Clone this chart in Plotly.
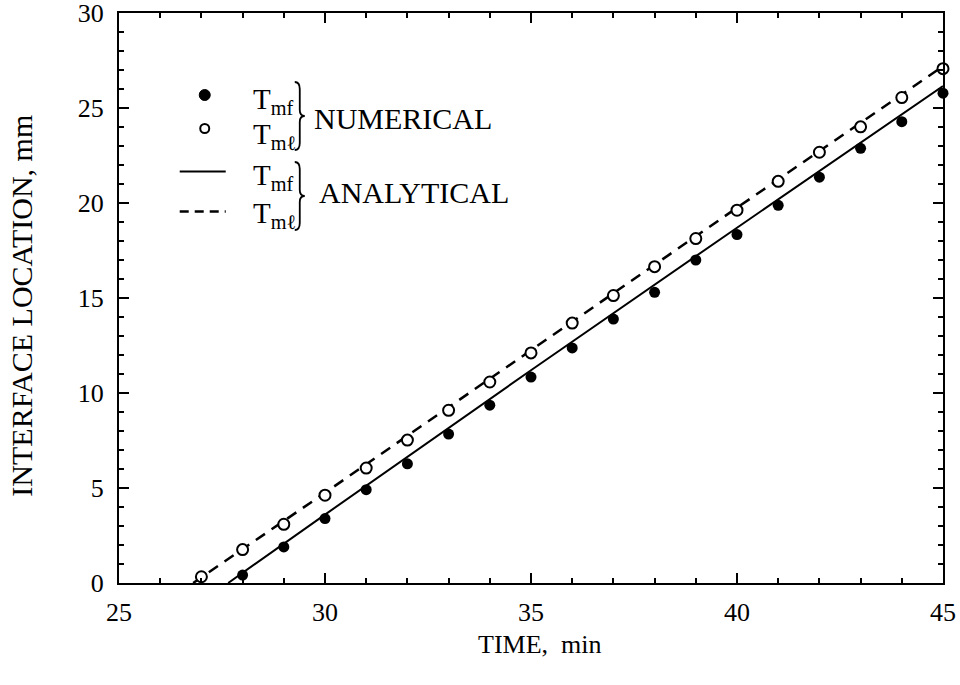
import plotly.graph_objects as go

# ---- data ----
time_num_mf = [28, 29, 30, 31, 32, 33, 34, 35, 36, 37, 38, 39, 40, 41, 42, 43, 44, 45]
loc_num_mf = [0.42, 1.90, 3.39, 4.91, 6.27, 7.84, 9.36, 10.84, 12.37, 13.89,
              15.30, 17.0, 18.34, 19.88, 21.36, 22.88, 24.28, 25.78]

time_num_ml = [27, 28, 29, 30, 31, 32, 33, 34, 35, 36, 37, 38, 39, 40, 41, 42, 43, 44, 45]
loc_num_ml = [0.33, 1.76, 3.09, 4.62, 6.05, 7.52, 9.09, 10.58, 12.11, 13.68,
              15.13, 16.65, 18.13, 19.62, 21.14, 22.67, 24.01, 25.55, 27.07]

time_ana_mf = [27.65, 30, 35, 40, 45]
loc_ana_mf = [0.0, 3.6, 11.2, 18.7, 26.15]

time_ana_ml = [26.8, 30, 35, 40, 45]
loc_ana_ml = [0.0, 4.75, 12.25, 19.75, 27.2]

x_ticks = [25, 30, 35, 40, 45]
y_ticks = [0, 5, 10, 15, 20, 25, 30]

FONT = "Liberation Serif"

fig = go.Figure()
fig.add_trace(go.Scatter(x=time_ana_mf, y=loc_ana_mf, mode="lines",
                         line=dict(color="black", width=2), showlegend=False))
fig.add_trace(go.Scatter(x=time_ana_ml, y=loc_ana_ml, mode="lines",
                         line=dict(color="black", width=2.5, dash="11px,8px"), showlegend=False))
fig.add_trace(go.Scatter(x=time_num_mf, y=loc_num_mf, mode="markers",
                         marker=dict(color="black", size=11, symbol="circle"),
                         cliponaxis=False, showlegend=False))
fig.add_trace(go.Scatter(x=time_num_ml, y=loc_num_ml, mode="markers",
                         marker=dict(color="white", size=11, symbol="circle",
                                     line=dict(color="black", width=2)),
                         cliponaxis=False, showlegend=False))

axis_common = dict(
    showline=True, linecolor="black", linewidth=2, mirror="ticks",
    ticks="inside", ticklen=10, tickwidth=1.5, tickcolor="black",
    minor=dict(dtick=1, ticks="inside", ticklen=5, tickwidth=1.5, tickcolor="black"),
    showgrid=False, zeroline=False, ticklabeloverflow="allow", automargin=False,
    tickfont=dict(family=FONT, size=26, color="black"),
)

fig.update_xaxes(range=[25, 45], tickvals=x_ticks, ticktext=[str(v) for v in x_ticks],
                 ticklabelstandoff=5, **axis_common)
fig.update_yaxes(range=[0, 30], tickvals=y_ticks, ticktext=[str(v) for v in y_ticks],
                 ticklabelstandoff=8, **axis_common)

# ---- pixel -> paper helpers for annotations / legend ----
TOP = 13
L, W, B, H = 119.3, 823.7, 583.0, 583.0 - TOP
def px(xp):
    return (xp - L) / W
def py(yp):
    return (B - yp) / H

shapes = []
shapes.append(dict(type="circle", xref="paper", yref="paper", xsizemode="pixel", ysizemode="pixel",
                   xanchor=px(205), yanchor=py(95), x0=-5.5, x1=5.5, y0=-5.5, y1=5.5,
                   fillcolor="black", line=dict(color="black", width=1)))
shapes.append(dict(type="circle", xref="paper", yref="paper", xsizemode="pixel", ysizemode="pixel",
                   xanchor=px(205), yanchor=py(128.5), x0=-4.5, x1=4.5, y0=-4.5, y1=4.5,
                   fillcolor="white", line=dict(color="black", width=2)))
shapes.append(dict(type="line", xref="paper", yref="paper", x0=px(180), x1=px(226),
                   y0=py(171.5), y1=py(171.5), line=dict(color="black", width=2)))
shapes.append(dict(type="line", xref="paper", yref="paper", x0=px(180), x1=px(226),
                   y0=py(211.5), y1=py(211.5), line=dict(color="black", width=2.5, dash="9px,6px")))
brace = "M -5 34 Q 0 34 0 27 L 0 6 Q 0 0 5 0 Q 0 0 0 -6 L 0 -27 Q 0 -34 -5 -34"
for cy in (116, 196):
    shapes.append(dict(type="path", xref="paper", yref="paper", xsizemode="pixel", ysizemode="pixel",
                       xanchor=px(300), yanchor=py(cy), path=brace,
                       line=dict(color="black", width=1.8)))
fig.update_layout(shapes=shapes)

annots = []
for yc, txt in [(101, "T<sub>mf</sub>"), (136, "T<sub>mℓ</sub>"),
                (177, "T<sub>mf</sub>"), (215, "T<sub>mℓ</sub>")]:
    annots.append(dict(x=px(251), y=py(yc), xref="paper", yref="paper", text=txt,
                       showarrow=False, xanchor="left", yanchor="middle",
                       font=dict(family=FONT, size=29, color="black")))
annots.append(dict(x=px(312), y=py(118), xref="paper", yref="paper", text="NUMERICAL",
                   showarrow=False, xanchor="left", yanchor="middle",
                   font=dict(family=FONT, size=30, color="black")))
annots.append(dict(x=px(317), y=py(192), xref="paper", yref="paper", text="ANALYTICAL",
                   showarrow=False, xanchor="left", yanchor="middle",
                   font=dict(family=FONT, size=30, color="black")))
# axis titles
annots.append(dict(x=px(540), y=py(645), xref="paper", yref="paper", text="TIME,&nbsp; min",
                   showarrow=False, xanchor="center", yanchor="middle",
                   font=dict(family=FONT, size=26, color="black")))
annots.append(dict(x=px(21), y=py(306), xref="paper", yref="paper", text="INTERFACE LOCATION, mm",
                   showarrow=False, xanchor="center", yanchor="middle", textangle=-90,
                   font=dict(family=FONT, size=30, color="black")))
fig.update_layout(annotations=annots)

fig.update_layout(
    width=960, height=685,
    margin=dict(l=119, r=17, t=TOP, b=102, autoexpand=False),
    paper_bgcolor="white", plot_bgcolor="white",
    font=dict(family=FONT, color="black"),
    showlegend=False,
)

fig.write_html("out.html", config={"displayModeBar": False},
               post_script="document.body.style.margin='0';document.body.style.overflow='hidden';")
